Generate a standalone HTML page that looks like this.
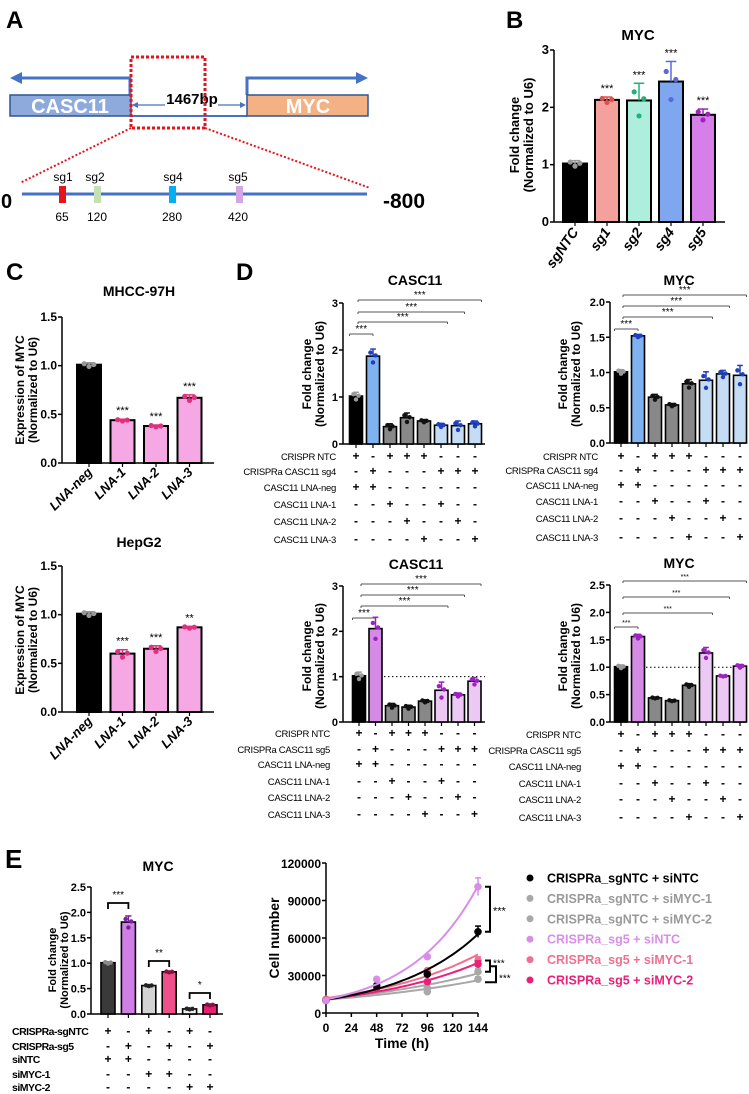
<!DOCTYPE html>
<html><head><meta charset="utf-8">
<style>
html,body{margin:0;padding:0;background:#fff;}
svg{display:block;font-family:"Liberation Sans",Arial,sans-serif;}
.nar{font-family:"Liberation Sans Narrow","Liberation Sans",sans-serif;}
</style></head>
<body>
<svg id="fig" width="749" height="1094" viewBox="0 0 749 1094" xmlns="http://www.w3.org/2000/svg">
<g>
<text x="6" y="28" font-size="24" font-weight="bold">A</text>
<g stroke="#4472C4" stroke-width="3" fill="none">
<polyline points="130,95 130,78 18,78"/>
<polyline points="247,95 247,78 360,78"/>
<line x1="130" y1="116" x2="247" y2="116" stroke-width="2"/>
</g>
<polygon points="10,78 22,72 22,84" fill="#4472C4"/>
<polygon points="368,78 356,72 356,84" fill="#4472C4"/>
<rect x="10" y="95" width="121" height="21" fill="#8EA9DB" stroke="#2F5597" stroke-width="1.5"/>
<text x="70" y="113" font-size="20" font-weight="bold" fill="#fff" text-anchor="middle" class="nar">CASC11</text>
<rect x="247" y="95" width="121" height="21" fill="#F4B183" stroke="#2F5597" stroke-width="1.5"/>
<text x="308" y="113" font-size="20" font-weight="bold" fill="#fff" text-anchor="middle" class="nar">MYC</text>
<g stroke="#4472C4" stroke-width="1.2">
<line x1="133" y1="105" x2="165" y2="105"/><line x1="218" y1="105" x2="244" y2="105"/>
</g>
<polygon points="132,105 138,102 138,108" fill="#4472C4"/><polygon points="246,105 240,102 240,108" fill="#4472C4"/>
<text x="192" y="104" font-size="15" font-weight="bold" text-anchor="middle" class="nar">1467bp</text>
<rect x="131" y="57" width="74" height="71" fill="none" stroke="#E8121A" stroke-width="3" stroke-dasharray="3,2"/>
<line x1="131" y1="128" x2="20" y2="183" stroke="#E8121A" stroke-width="2" stroke-dasharray="2,2"/>
<line x1="205" y1="128" x2="370" y2="188" stroke="#E8121A" stroke-width="2" stroke-dasharray="2,2"/>
<line x1="22" y1="194" x2="367" y2="194" stroke="#4472C4" stroke-width="3"/>
<text x="1" y="208" font-size="20" font-weight="bold" class="nar">0</text>
<text x="383" y="208" font-size="21" font-weight="bold" class="nar">-800</text>
<g font-size="12" class="nar" text-anchor="middle">
<rect x="59" y="186" width="7" height="17" fill="#E8121A"/>
<rect x="94" y="186" width="7" height="17" fill="#C5E0B4"/>
<rect x="169" y="186" width="7" height="17" fill="#00B0F0"/>
<rect x="236" y="186" width="7" height="17" fill="#D5A6E6"/>
<text x="63" y="181">sg1</text><text x="95" y="181">sg2</text><text x="173" y="181">sg4</text><text x="238" y="181">sg5</text>
<text x="62" y="221">65</text><text x="97" y="221">120</text><text x="172" y="221">280</text><text x="238" y="221">420</text>
</g>
</g>
<text x="506" y="28" font-size="24" font-weight="bold">B</text>
<text x="6" y="280" font-size="24" font-weight="bold">C</text>
<text x="236" y="280" font-size="24" font-weight="bold">D</text>
<text x="5" y="868" font-size="26" font-weight="bold">E</text>
<g id="charts"></g>
</svg>
<script>
// ---- data ----
const bCats = ["sgNTC","sg1","sg2","sg4","sg5"];
const bVals = [1.02,2.13,2.12,2.45,1.87];
const bErrs = [0.05,0.05,0.30,0.35,0.10];
const bStars = ["","***","***","***","***"];
const c1Cats = ["LNA-neg","LNA-1","LNA-2","LNA-3"];
const c1Vals = [1.01,0.44,0.38,0.67];
const c1Errs = [0.02,0.01,0.01,0.03];
const c1Stars = ["","***","***","***"];
const c2Vals = [1.01,0.60,0.65,0.87];
const c2Errs = [0.02,0.04,0.03,0.01];
const c2Stars = ["","***","***","**"];
const d1Vals = [1.02,1.87,0.37,0.56,0.49,0.40,0.39,0.43];
const d1Errs = [0.08,0.15,0.06,0.10,0.03,0.04,0.10,0.06];
const d2Vals = [1.01,1.52,0.65,0.54,0.84,0.89,0.98,0.96];
const d2Errs = [0.03,0.02,0.04,0.02,0.06,0.12,0.05,0.14];
const d3Vals = [1.02,2.06,0.36,0.33,0.46,0.70,0.60,0.90];
const d3Errs = [0.08,0.25,0.05,0.04,0.03,0.18,0.04,0.08];
const d4Vals = [1.01,1.56,0.44,0.39,0.67,1.26,0.84,1.02];
const d4Errs = [0.03,0.04,0.01,0.01,0.03,0.10,0.01,0.03];
const dRowLabelsA = ["CRISPR NTC","CRISPRa CASC11 sg4","CASC11 LNA-neg","CASC11 LNA-1","CASC11 LNA-2","CASC11 LNA-3"];
const dRowLabelsB = ["CRISPR NTC","CRISPRa CASC11 sg5","CASC11 LNA-neg","CASC11 LNA-1","CASC11 LNA-2","CASC11 LNA-3"];
const dSigns = ["+-+++---","-+---+++","++------","--+--+--","---+--+-","----+--+"];
const dComparisons = [[0,1],[0,5],[0,6],[0,7]];
const e1Vals = [1.01,1.81,0.56,0.83,0.10,0.18];
const e1Errs = [0.02,0.12,0.01,0.01,0.01,0.01];
const eRowLabels = ["CRISPRa-sgNTC","CRISPRa-sg5","siNTC","siMYC-1","siMYC-2"];
const eSigns = ["+-+-+-","-+-+-+","++----","--++--","----++"];
const eStars = ["***","**","*"];
const timeTicks = [0,24,48,72,96,120,144];
const times = [0,48,96,144];
const cellTicks = [0,30000,60000,90000,120000];
const seriesNames = ["CRISPRa_sgNTC + siNTC","CRISPRa_sgNTC + siMYC-1","CRISPRa_sgNTC + siMYC-2","CRISPRa_sg5 + siNTC","CRISPRa_sg5 + siMYC-1","CRISPRa_sg5 + siMYC-2"];
const s1 = [10000,22000,31000,65000];
const s2 = [11000,18000,20000,33000];
const s3 = [10000,17000,17000,27000];
const s4 = [10000,27000,45000,101000];
const s5 = [11000,20000,34000,42000];
const s6 = [10000,20000,25000,39000];

const NS="http://www.w3.org/2000/svg";
const root=document.getElementById('charts');
function mk(tag,attrs,parent,txt){const e=document.createElementNS(NS,tag);for(const k in attrs)e.setAttribute(k,attrs[k]);if(txt!==undefined)e.textContent=txt;(parent||root).appendChild(e);return e;}

function barChart(c){
  const g=mk('g',{});
  
  
  const ys=v=>c.yBot-(v/c.ymax)*(c.yBot-c.yTop);
  const xs=i=>c.x0+c.step*i;
  const t=mk('text',{x:c.tx,y:c.ty,'font-size':c.tfs||14,'font-weight':'bold','text-anchor':'middle',class:'nar'},g,c.title);
  
  
  const ya=mk('line',{x1:c.ax,y1:c.yTop,x2:c.ax,y2:c.yBot,stroke:'#000','stroke-width':1.5},g);
  
  
  const xa=mk('line',{x1:c.ax,y1:c.yBot,x2:c.xEnd,y2:c.yBot,stroke:'#000','stroke-width':1.5},g);
  
  
  c.ticks.forEach(v=>{
    mk('line',{x1:c.ax-4,y1:ys(v),x2:c.ax,y2:ys(v),stroke:'#000','stroke-width':1.5},g);
    const tl=mk('text',{x:c.ax-5,y:ys(v)+4,'font-size':c.kfs||12,'font-weight':'bold','text-anchor':'end',class:'nar'},g,v.toFixed(c.dec));
    
    
  });
  c.vals.forEach((v,i)=>mk('line',{x1:xs(i),y1:c.yBot,x2:xs(i),y2:c.yBot+4,stroke:'#000','stroke-width':1.2},g));
  const yt=mk('text',{transform:`translate(${c.ytx},${c.yty}) rotate(-90)`,'font-size':c.yfs||12,'font-weight':'bold','text-anchor':'middle'},g);
  
  
  mk('tspan',{x:0,y:0},yt,c.yt1);mk('tspan',{x:0,y:c.ylh||13},yt,c.yt2);
  if(c.dotted!==undefined){mk('line',{x1:c.dotx1,y1:ys(c.dotted),x2:c.xEnd,y2:ys(c.dotted),stroke:'#000','stroke-width':1,'stroke-dasharray':'1.5,2.5'},g);}
  c.vals.forEach((v,i)=>{
    const b=mk('rect',{x:xs(i)-c.bw/2,y:ys(v),width:c.bw,height:c.yBot-ys(v),fill:c.colors[i],stroke:'#000','stroke-width':c.sw||2},g);
    
    
    const pc=c.pcol[i];
    const e=c.errs[i];
    mk('line',{x1:xs(i),y1:ys(v),x2:xs(i),y2:ys(v+e),stroke:pc,'stroke-width':1.5},g);
    mk('line',{x1:xs(i)-c.bw*0.22,y1:ys(v+e),x2:xs(i)+c.bw*0.22,y2:ys(v+e),stroke:pc,'stroke-width':1.5},g);
    [[-0.2,0.5],[0,-0.9],[0.2,0.1]].forEach(p=>{
      const d=mk('circle',{cx:xs(i)+p[0]*c.bw,cy:ys(v+p[1]*e),r:c.pr||2.6,fill:pc},g);
      
      
    });
    if(c.stars&&c.stars[i]){const s=mk('text',{x:xs(i),y:ys(v+e)-5,'font-size':11,'text-anchor':'middle'},g,c.stars[i]);
      
      }
    if(c.cats){const l=mk('text',{transform:`translate(${xs(i)+4},${c.yBot+10}) rotate(${c.rot})`,'font-size':c.cfs||13,'font-weight':'bold','font-style':'italic','text-anchor':'end'},g,c.cats[i]);
      
      }
  });
  if(c.comps){c.comps.forEach((p,k)=>{
    const yy=c.compY[k];
    const xa1=xs(p[0])-(k===0?c.bw/2:-2), xb=xs(p[1])+(k===0?0:c.bw/2);
    mk('line',{x1:xa1,y1:yy,x2:xb,y2:yy,stroke:'#555','stroke-width':1},g);
    mk('line',{x1:xa1,y1:yy,x2:xa1,y2:yy+2,stroke:'#555','stroke-width':1},g);
    mk('line',{x1:xb,y1:yy,x2:xb,y2:yy+2,stroke:'#555','stroke-width':1},g);
    const s=mk('text',{x:(xa1+xb)/2,y:yy-2,'font-size':c.sfs||10,'text-anchor':'middle'},g,'***');
    
    
  });}
  if(c.rows){c.rows.forEach((lab,r)=>{
    const l=mk('text',{x:c.rlx,y:c.rowY[r]+4,'font-size':c.rfs||9.5,'letter-spacing':c.rls||'-0.3','text-anchor':c.ranchor||'end',class:'nar','font-weight':c.rfw||'normal'},g,lab);
    
    
    c.signs[r].split('').forEach((ch,i)=>{mk('text',{x:xs(i),y:c.rowY[r]+4,'font-size':12,'font-weight':'bold','text-anchor':'middle'},g,ch==='+'?'+':'-');});
  });}
  return {g,ys,xs};
}
barChart({name:'panel-b-chart',title:'MYC',tx:638,ty:40,tfs:15,ax:554,yTop:50,yBot:222,ymax:3,ticks:[0,1,2,3],dec:0,kfs:13,
 x0:575,step:32,bw:24,xEnd:725,vals:bVals,errs:bErrs,stars:bStars,cats:bCats,rot:-55,cfs:14,
 colors:['#000','#F4A09C','#AEEEDD','#7FA7F0','#D67FE8'],pcol:['#999','#E0504E','#23B07A','#5A6AD8','#A020C0'],
 yt1:'Fold change',yt2:'(Normalized to U6)',ytx:519,yty:135,yfs:13,ylh:14});
const cCols=['#000','#F5A8E4','#F5A8E4','#F5A8E4'];const cP=['#999','#E0307F','#E0307F','#E0307F'];
barChart({name:'panel-c-mhcc97h-chart',title:'MHCC-97H',tx:139,ty:296,ax:62,yTop:317,yBot:463,ymax:1.5,ticks:[0,0.5,1,1.5],dec:1,
 x0:89,step:33.5,bw:24,xEnd:214,vals:c1Vals,errs:c1Errs,stars:c1Stars,cats:c1Cats,rot:-45,colors:cCols,pcol:cP,
 yt1:'Expression of MYC',yt2:'(Normalized to U6)',ytx:24,yty:390});
barChart({name:'panel-c-hepg2-chart',title:'HepG2',tx:139,ty:547,ax:62,yTop:566,yBot:712,ymax:1.5,ticks:[0,0.5,1,1.5],dec:1,
 x0:89,step:33.5,bw:24,xEnd:214,vals:c2Vals,errs:c2Errs,stars:c2Stars,cats:c1Cats,rot:-45,colors:cCols,pcol:cP,
 yt1:'Expression of MYC',yt2:'(Normalized to U6)',ytx:24,yty:640});
const blueC=['#000','#7FB3F0','#888','#888','#888','#C5DCF5','#C5DCF5','#C5DCF5'];
const blueP=['#999','#1F3FBF','#111','#111','#111','#1F3FBF','#1F3FBF','#1F3FBF'];
const vC=['#000','#D58BE6','#888','#888','#888','#ECC8F5','#ECC8F5','#ECC8F5'];
const vP=['#999','#9A22C0','#111','#111','#111','#9A22C0','#9A22C0','#9A22C0'];
barChart({name:'panel-d-casc11-sg4-chart',title:'CASC11',tx:415,ty:285,ax:343,yTop:303,yBot:444,ymax:3,ticks:[0,1,2,3],dec:0,kfs:11,
 x0:356,step:17,bw:13,xEnd:485,vals:d1Vals,errs:d1Errs,colors:blueC,pcol:blueP,pr:2.2,sw:1.6,
 comps:dComparisons,compY:[334,322,312,300],yt1:'Fold change',yt2:'(Normalized to U6)',ytx:311,yty:374,
 rows:dRowLabelsA,signs:dSigns,rlx:336,rowY:[456,471,487,504,521,539]});
barChart({name:'panel-d-myc-sg4-chart',title:'MYC',tx:679,ty:285,ax:610,yTop:302,yBot:443,ymax:2,ticks:[0,0.5,1,1.5,2],dec:1,kfs:11,
 x0:621,step:17,bw:13,xEnd:746,vals:d2Vals,errs:d2Errs,colors:blueC,pcol:blueP,pr:2.2,sw:1.6,
 comps:dComparisons,compY:[329,317,306,295],yt1:'Fold change',yt2:'(Normalized to U6)',ytx:567,yty:374,
 rows:dRowLabelsA,signs:dSigns,rlx:598,rowY:[456,470,485,501,518,537]});
barChart({name:'panel-d-casc11-sg5-chart',title:'CASC11',tx:416,ty:569,ax:343,yTop:586,yBot:722,ymax:3,ticks:[0,1,2,3],dec:0,kfs:11,
 x0:359,step:16.5,bw:13,xEnd:485,vals:d3Vals,errs:d3Errs,colors:vC,pcol:vP,pr:2.2,sw:1.6,dotted:1,dotx1:384,
 comps:dComparisons,compY:[618,606,595,584],yt1:'Fold change',yt2:'(Normalized to U6)',ytx:311,yty:656,
 rows:dRowLabelsB,signs:dSigns,rlx:330,rowY:[733,749,764,781,797,814]});
barChart({name:'panel-d-myc-sg5-chart',title:'MYC',tx:679,ty:568,ax:610,yTop:585,yBot:722,ymax:2.5,ticks:[0,0.5,1,1.5,2,2.5],dec:1,kfs:11,
 x0:621,step:17,bw:13,xEnd:746,vals:d4Vals,errs:d4Errs,colors:vC,pcol:vP,pr:2.2,sw:1.6,dotted:1,dotx1:634,sfs:7,
 comps:dComparisons,compY:[627,613,597,581],yt1:'Fold change',yt2:'(Normalized to U6)',ytx:567,yty:656,
 rows:dRowLabelsB,signs:dSigns,rlx:581,rowY:[734,750,766,783,799,817]});
const eChart=barChart({name:'panel-e-myc-chart',title:'MYC',tx:158,ty:871,ax:91,yTop:887,yBot:1014,ymax:2.5,ticks:[0,0.5,1,1.5,2,2.5],dec:1,kfs:11,
 x0:108,step:20.4,bw:14,xEnd:223,vals:e1Vals,errs:e1Errs,colors:['#3A3A3A','#D07FE6','#D3D3D3','#F0508A','#EEEEEE','#E8206F'],
 pcol:['#888','#7A1FA0','#222','#8A1040','#222','#8A1040'],pr:2.2,sw:1.6,
 yt1:'Fold change',yt2:'(Normalized to U6)',ytx:56,yty:960,yfs:11,ylh:12,
 rows:eRowLabels,signs:eSigns,rlx:12,ranchor:'start',rfs:10.5,rls:'-0.5',rfw:'bold',rowY:[1031,1046,1059,1074,1087]});
[[903,890],[961,953],[993,982]].forEach((p,k)=>{
  const xa=eChart.xs(2*k),xb=eChart.xs(2*k+1);
  mk('polyline',{points:`${xa},${p[0]+6} ${xa},${p[0]} ${xb},${p[0]} ${xb},${p[0]+6}`,fill:'none',stroke:'#000','stroke-width':1.8});
  const s=mk('text',{x:(xa+xb)/2,y:p[0]-5,'font-size':10,'text-anchor':'middle'},root,eStars[k]);
  
  
});
(function(){
  const g=mk('g',{});
  
  
  const ax=326,yB=1013,yT=863,xR=478;
  const xs=t=>ax+t/144*(xR-ax), ys=v=>yB-v/120000*(yB-yT);
  const ya=mk('line',{x1:ax,y1:yT,x2:ax,y2:yB,stroke:'#000','stroke-width':1.5},g);
  
  
  const xa=mk('line',{x1:ax,y1:yB,x2:xR,y2:yB,stroke:'#000','stroke-width':1.5},g);
  
  
  cellTicks.forEach(v=>{mk('line',{x1:ax-4,y1:ys(v),x2:ax,y2:ys(v),stroke:'#000','stroke-width':1.5},g);
    const l=mk('text',{x:ax-5,y:ys(v)+5,'font-size':12,'font-weight':'bold','text-anchor':'end',class:'nar'},g,String(v));
    
    });
  timeTicks.forEach(v=>{mk('line',{x1:xs(v),y1:yB,x2:xs(v),y2:yB+4,stroke:'#000','stroke-width':1.5},g);
    const l=mk('text',{x:xs(v),y:yB+19,'font-size':12,'font-weight':'bold','text-anchor':'middle',class:'nar'},g,String(v));
    
    });
  const xt=mk('text',{x:402,y:1048,'font-size':14,'font-weight':'bold','text-anchor':'middle',class:'nar'},g,'Time (h)');
  
  
  const yt=mk('text',{transform:'translate(279,938) rotate(-90)','font-size':14,'font-weight':'bold','text-anchor':'middle'},g,'Cell number');
  
  
  const all=[s1,s2,s3,s4,s5,s6];
  const cols=['#000','#A8A8A8','#A8A8A8','#D88EE8','#F07090','#E8207A'];
  const order=[2,1,4,5,0,3];
  order.forEach(k=>{
    const s=all[k];
    let n=s.length,sx=0,sy=0,sxx=0,sxy=0;
    s.forEach((v,i)=>{const x=times[i],y=Math.log(v);sx+=x;sy+=y;sxx+=x*x;sxy+=x*y;});
    const b=(n*sxy-sx*sy)/(n*sxx-sx*sx),a=(sy-b*sx)/n;
    let d='';for(let t=0;t<=144;t+=3){d+=(t?'L':'M')+xs(t).toFixed(1)+','+ys(Math.exp(a+b*t)).toFixed(1);}
    const p=mk('path',{d,fill:'none',stroke:cols[k],'stroke-width':2},g);
    
    
    s.forEach((v,i)=>{const c=mk('circle',{cx:xs(times[i]),cy:ys(v),r:3.8,fill:cols[k]},g);
      
      });
    const last=s[s.length-1];
    mk('line',{x1:xs(144),y1:ys(last*0.93),x2:xs(144),y2:ys(last*1.07),stroke:cols[k],'stroke-width':1.5},g);
    mk('line',{x1:xs(144)-3,y1:ys(last*1.07),x2:xs(144)+3,y2:ys(last*1.07),stroke:cols[k],'stroke-width':1.5},g);
  });
  const bx=490;
  mk('polyline',{points:`${bx-5},${ys(s4[3])} ${bx},${ys(s4[3])} ${bx},${ys(s1[3])} ${bx-5},${ys(s1[3])}`,fill:'none',stroke:'#000','stroke-width':2},g);
  mk('text',{x:bx+3,y:(ys(s4[3])+ys(s1[3]))/2+5,'font-size':11},g,'***');
  mk('polyline',{points:`${bx-5},${ys(s5[3])} ${bx},${ys(s5[3])} ${bx},${ys(s2[3])} ${bx-5},${ys(s2[3])}`,fill:'none',stroke:'#000','stroke-width':2},g);
  mk('text',{x:bx+3,y:ys(s5[3])+6,'font-size':10},g,'***');
  mk('polyline',{points:`${bx},${ys(s6[3])+2} ${bx+6},${ys(s6[3])+2} ${bx+6},${ys(s3[3])+3} ${bx-5},${ys(s3[3])+3}`,fill:'none',stroke:'#000','stroke-width':2},g);
  mk('text',{x:bx+9,y:ys(s3[3])+2,'font-size':10},g,'***');
  seriesNames.forEach((nm,i)=>{
    const y=878+i*20.4;
    const c=mk('circle',{cx:530,cy:y,r:3.5,fill:cols[i]},g);
    
    
    const t=mk('text',{x:547,y:y+4.5,'font-size':12.5,'font-weight':'bold',fill:cols[i]==='#A8A8A8'?'#999':cols[i]},g,nm);
    
    
  });
})();
</script>
</body></html>
